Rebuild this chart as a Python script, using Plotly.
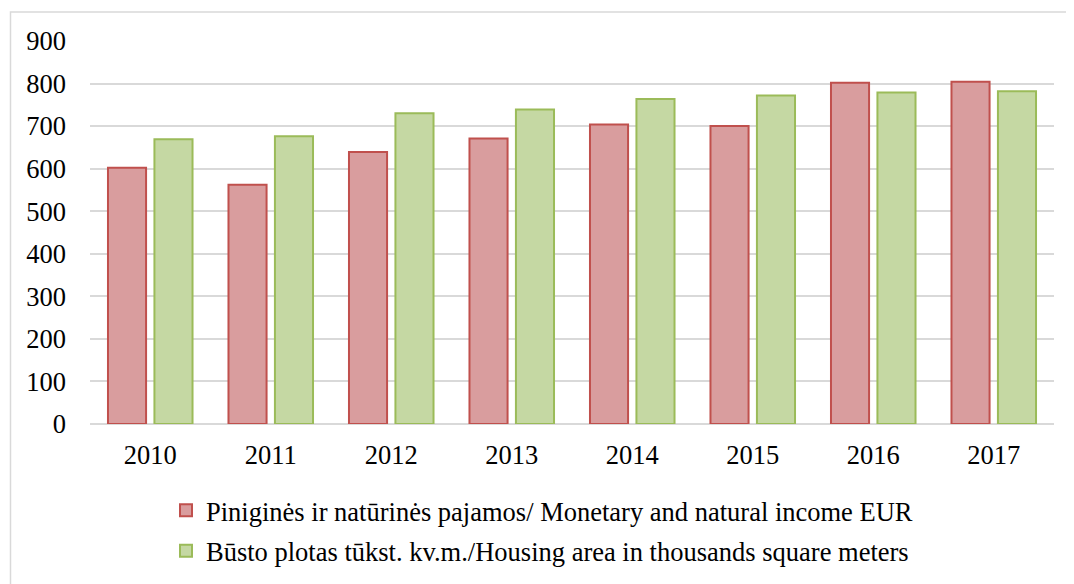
import plotly.graph_objects as go

years = ["2010", "2011", "2012", "2013", "2014", "2015", "2016", "2017"]
income = [602, 562, 639, 671, 704, 700, 802, 804]
housing = [669, 676, 730, 739, 764, 772, 779, 782]
name_income = "Piniginės ir natūrinės pajamos/ Monetary and natural income EUR"
name_housing = "Būsto plotas tūkst. kv.m./Housing area in thousands square meters"

FONT = "Liberation Serif"
FS = 26.5

fig = go.Figure()
fig.add_trace(go.Bar(
    x=years, y=income, name=name_income, legendgroup="a",
    marker=dict(color="#d99d9e", line=dict(color="#c0504d", width=2)),
))
fig.add_trace(go.Bar(
    x=years, y=housing, name=name_housing, legendgroup="b",
    marker=dict(color="#c5d8a3", line=dict(color="#9bbb59", width=2)),
))

# page body has an 8px margin; figure coordinates = screen - 8
W, H = 1066, 576
L, R, T, B = 82, 20, 32.6, 159.7
pw = W - L - R
ph = H - T - B

def px_x(x):
    return (x - L) / pw

def px_y(y):
    return (H - B - y) / ph

fig.add_shape(type="rect", xref="paper", yref="paper",
              x0=px_x(2.5), x1=px_x(1080), y0=px_y(600), y1=px_y(3.5),
              line=dict(color="#d9d9d9", width=1.5), fillcolor="rgba(0,0,0,0)",
              layer="below")

fig.update_layout(
    width=W, height=H,
    margin=dict(l=L, r=R, t=T, b=B, pad=0, autoexpand=False),
    paper_bgcolor="white", plot_bgcolor="white",
    font=dict(family=FONT, size=FS, color="black"),
    barmode="group", bargap=0.229, bargroupgap=0.18,
    showlegend=True,
    legend=dict(
        xref="container", yref="container",
        x=158 / W, y=1 - 478.6 / H, xanchor="left", yanchor="top",
        orientation="v", traceorder="grouped", tracegroupgap=3,
        font=dict(family=FONT, size=FS, color="black"),
        bgcolor="rgba(0,0,0,0)",
    ),
    xaxis=dict(
        showgrid=False, showline=False, ticks="", ticklabelstandoff=12,
        tickfont=dict(family=FONT, size=FS, color="black"),
    ),
    yaxis=dict(
        range=[0, 900], dtick=100, showgrid=True, gridcolor="#d9d9d9", gridwidth=1.5,
        zeroline=True, zerolinecolor="#d9d9d9", zerolinewidth=1.5,
        showline=False, ticks="", ticklabelstandoff=23,
        tickfont=dict(family=FONT, size=FS, color="black"),
    ),
)

fig.write_html("out.html")
